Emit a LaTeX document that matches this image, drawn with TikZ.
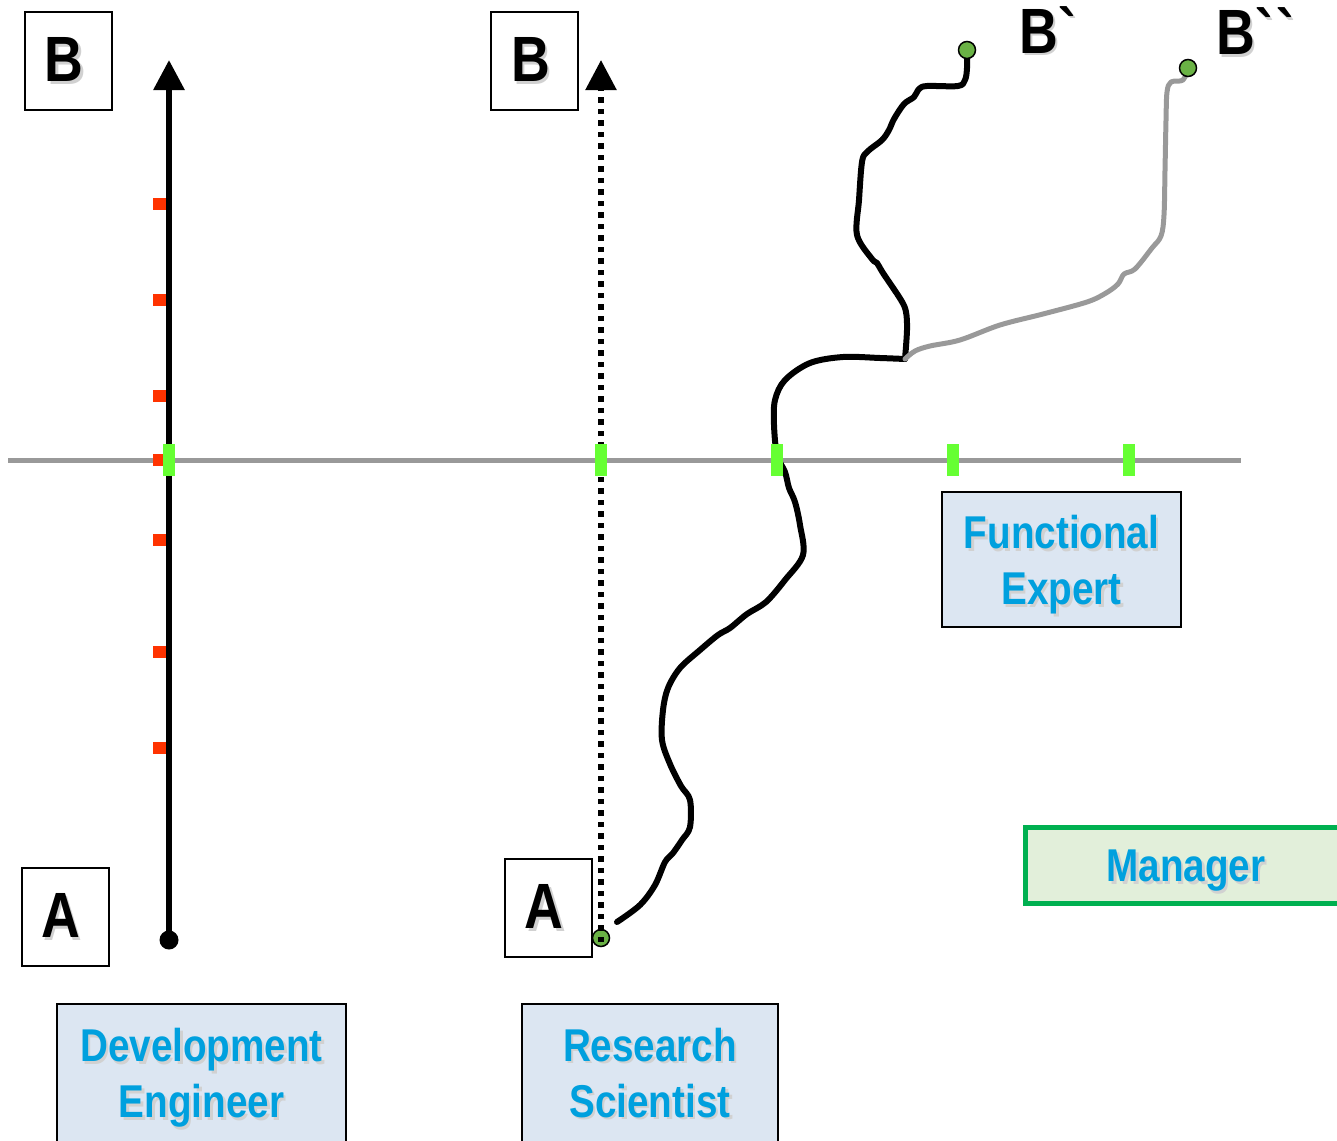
\documentclass[tikz,border=0pt]{standalone}
\usepackage{fontspec}
\newfontfamily\narrowsans[FakeStretch=0.84]{Liberation Sans}
\usetikzlibrary{arrows.meta}
\definecolor{rolefill}{HTML}{DCE6F2}
\definecolor{roletext}{HTML}{00A0DE}
\definecolor{mgrfill}{HTML}{E2EFDA}
\definecolor{mgrline}{HTML}{00B050}
\definecolor{axisgray}{HTML}{999999}
\definecolor{stepred}{HTML}{FF3300}
\definecolor{stepgreen}{HTML}{66FF33}
\definecolor{dotgreen}{HTML}{6AB245}
\newcommand{\shadowed}[1]{\makebox[0pt][l]{\hspace{2.5pt}\raisebox{-2.5pt}{\textcolor{black!18}{#1}}}#1}

\begin{document}
\begin{tikzpicture}[x=1pt,y=-1pt,
    letter/.style={draw,line width=2pt,minimum width=87pt,minimum height=98pt,inner sep=0pt,
      font=\narrowsans\bfseries\fontsize{64}{64}\selectfont},
    role/.style={draw,line width=2pt,fill=rolefill,text=roletext,align=center,inner sep=0pt,
      font=\narrowsans\bfseries\fontsize{46}{56}\selectfont},
    tip/.style={circle,draw,line width=1.5pt,fill=dotgreen,minimum size=17pt,inner sep=0pt},
    route/.style={line width=6pt,line cap=round,line join=round},
    arrowtip/.style={-{Triangle[width=30pt,length=30pt]}}]
    \useasboundingbox (0,0) rectangle (1337,1140);

    \coordinate (endL) at (169,60);
    \coordinate (endR) at (601,60);
    \coordinate (walk) at (617,922);
    \coordinate (fork) at (905,359);
    \coordinate (bone) at (967,50);
    \coordinate (btwo) at (1188,68);

    \draw[axisgray,line width=5pt] (8,460) -- (1241,460);
    \foreach \y in {204,300,396,460,540,652,748}
      \fill[stepred] (153,\y-6) rectangle (169,\y+6);

    \node at (169,940)[circle,fill,minimum size=19pt,inner sep=0pt,name=startL]{};
    \draw[line width=6pt,arrowtip] (startL.center) -- (endL);

    \draw[route] plot[smooth,tension=0.55] coordinates {(walk) (640,905) (655,885) (665,862)
      (673,853) (682,840) (690,827) (690,800) (681,786) (670,764) (662,740) (663,710) (668,688)
      (680,668) (700,650) (718,635) (730,628) (747,614) (766,602) (785,580) (803,555) (800,525)
      (795,502) (789,488) (785,472) (777,455) (774,425) (775,400) (785,380) (810,363) (843,357)
      (880,358) (fork)};
    \draw[route] plot[smooth,tension=0.55] coordinates {(fork) (907,330) (906,312) (901,300)
      (883,273) (877,263) (872,259) (857,235) (859,200) (862,162) (867,152) (882,140) (889,130)
      (894,119) (904,104) (914,97) (919,89) (927,86) (958,86) (965,80) (967,68) (bone)};
    \draw[route,axisgray,line width=5pt] plot[smooth,tension=0.55] coordinates {(fork) (915,351) (930,346)
      (960,340) (1000,325) (1043,314) (1087,302) (1106,293) (1118,284) (1124,274) (1135,269)
      (1152,248) (1161,236) (1164,215) (1165,170) (1166,120) (1167,92) (1171,82) (1183,80) (btwo)};

    \node at (bone)[tip,name=dotB1]{};
    \node at (btwo)[tip,name=dotB2]{};
    \node at (601,938)[tip,name=startR]{};
    \draw[line width=5.5pt,dash pattern=on 5.5pt off 6pt,arrowtip] ([yshift=-4pt]startR.center) -- (endR);

    \foreach \x in {169,601,777,953,1129}
      \fill[stepgreen] (\x-6,444) rectangle (\x+6,476);

    \node at (68,61)[letter,name=Bdev]{\shadowed{B}\kern8pt};
    \node at (65,917)[letter,name=Adev]{\shadowed{A}\kern9pt};
    \node at (534.5,61)[letter,name=Bres]{\shadowed{B}\kern8pt};
    \node at (548.5,908)[letter,name=Ares]{\shadowed{A}\kern9pt};
    \node at (1019,53)[anchor=base west,inner sep=0pt,name=Bprime,
      font=\narrowsans\bfseries\fontsize{64}{64}\selectfont]{\shadowed{B\textasciigrave}};
    \node at (1216,55)[anchor=base west,inner sep=0pt,name=Bdprime,
      font=\narrowsans\bfseries\fontsize{64}{64}\selectfont]{\shadowed{B\textasciigrave\textasciigrave}};

    \node at (201.5,1079)[role,minimum width=289pt,minimum height=150pt,name=dev]
      {\shadowed{Development}\\\shadowed{Engineer}};
    \node at (650,1074)[role,minimum width=256pt,minimum height=140pt,name=res]
      {\shadowed{Research}\\\shadowed{Scientist}};
    \node at (1061.5,559.5)[role,minimum width=239pt,minimum height=135pt,name=func]
      {\rule{0pt}{47pt}\shadowed{Functional}\\\shadowed{Expert}};
    \node at (1186,865)[role,draw=mgrline,line width=5pt,fill=mgrfill,minimum width=322pt,
      minimum height=76pt,text height=33pt,text depth=0pt,name=mgr]{\shadowed{Manager}};
\end{tikzpicture}
\end{document}
